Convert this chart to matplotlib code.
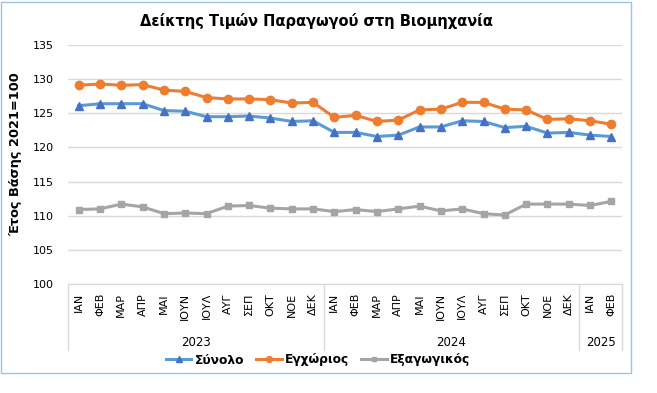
import matplotlib
matplotlib.use("Agg")
import matplotlib.pyplot as plt
from matplotlib.patches import Rectangle
from matplotlib.transforms import blended_transform_factory

months = ["ΙΑΝ", "ΦΕΒ", "ΜΑΡ", "ΑΠΡ", "ΜΑΙ", "ΙΟΥΝ", "ΙΟΥΛ", "ΑΥΓ", "ΣΕΠ", "ΟΚΤ", "ΝΟΕ", "ΔΕΚ",
          "ΙΑΝ", "ΦΕΒ", "ΜΑΡ", "ΑΠΡ", "ΜΑΙ", "ΙΟΥΝ", "ΙΟΥΛ", "ΑΥΓ", "ΣΕΠ", "ΟΚΤ", "ΝΟΕ", "ΔΕΚ",
          "ΙΑΝ", "ΦΕΒ"]
years = ["2023", "2024", "2025"]
year_counts = [12, 12, 2]

synolo = [126.1, 126.4, 126.4, 126.4, 125.4, 125.3, 124.5, 124.5, 124.6, 124.3, 123.8, 123.9,
          122.2, 122.2, 121.6, 121.8, 123.0, 123.0, 123.9, 123.8, 122.9, 123.1, 122.1, 122.2,
          121.8, 121.6]
egxorios = [129.1, 129.3, 129.1, 129.2, 128.4, 128.2, 127.3, 127.1, 127.1, 127.0, 126.5, 126.6,
            124.4, 124.7, 123.8, 124.0, 125.5, 125.6, 126.6, 126.6, 125.6, 125.5, 124.1, 124.2,
            123.9, 123.4]
exagogikos = [110.9, 111.0, 111.7, 111.3, 110.3, 110.4, 110.3, 111.4, 111.5, 111.1, 111.0, 111.0,
              110.6, 110.9, 110.6, 111.0, 111.4, 110.7, 111.0, 110.3, 110.1, 111.7, 111.7, 111.7,
              111.5, 112.1]

plt.rcParams['font.family'] = ['DejaVu Sans']

fig = plt.figure(figsize=(6.57, 3.93), dpi=100)
ax = fig.add_axes([68/657, 1-284/393, (622-68)/657, (284-45)/393])

x = list(range(len(months)))
ax.plot(x, synolo, color="#5B9BD5", lw=2.2, marker="^", ms=5.5, mfc="#4472C4", mec="#4472C4",
        label="Σύνολο", zorder=3)
ax.plot(x, egxorios, color="#ED7D31", lw=2.2, marker="o", ms=6, mfc="#ED7D31", mec="#ED7D31",
        label="Εγχώριος", zorder=3)
ax.plot(x, exagogikos, color="#A5A5A5", lw=2.2, marker="s", ms=5, mfc="#A5A5A5", mec="#A5A5A5",
        label="Εξαγωγικός", zorder=3)

ax.set_xlim(-0.5, len(months) - 0.5)
ax.set_ylim(100, 135)
ax.set_yticks(range(100, 136, 5))
ax.yaxis.grid(True, color="#D9D9D9", lw=1)
ax.set_axisbelow(True)
for s in ["top", "right", "left"]:
    ax.spines[s].set_visible(False)
ax.spines["bottom"].set_color("#D9D9D9")
ax.tick_params(axis="y", length=0, labelsize=8, pad=10, colors="#000000")
ax.set_xticks([])

trans = blended_transform_factory(ax.transData, ax.transAxes)
ax_h = (284-45)
for i, m in enumerate(months):
    ax.text(i, -9/ax_h, m, rotation=90, ha="center", va="top", fontsize=8, transform=trans)

# group separators and year labels
start = 0
bounds = [-0.5]
for y, c in zip(years, year_counts):
    center = start + (c - 1) / 2
    ax.text(center, -58/ax_h, y, ha="center", va="center", fontsize=8.5, transform=trans)
    start += c
    bounds.append(start - 0.5)
for b in bounds:
    ax.plot([b, b], [0, -66/ax_h], color="#D9D9D9", lw=1, transform=trans, clip_on=False)

fig.text(16/657, 1-154/393, "Έτος Βάσης 2021=100", rotation=90, ha="center", va="center",
         fontsize=9.3, fontweight="bold")

fig.text(316/657, 1-21/393, "Δείκτης Τιμών Παραγωγού στη Βιομηχανία", ha="center", va="center",
         fontsize=10.5, fontweight="bold")

leg = fig.legend(loc="center", bbox_to_anchor=(318/657, 1-360/393), ncol=3, frameon=False,
                 prop={"size": 8.8, "weight": "bold"}, handlelength=2.1, columnspacing=1.0,
                 handletextpad=0.25, markerscale=0.7)

fig.patches.append(Rectangle((1/657, 1-373/393), 630/657, 371/393, transform=fig.transFigure,
                             fill=False, edgecolor="#9DC3E6", lw=1))

fig.savefig("out.png", dpi=100)
